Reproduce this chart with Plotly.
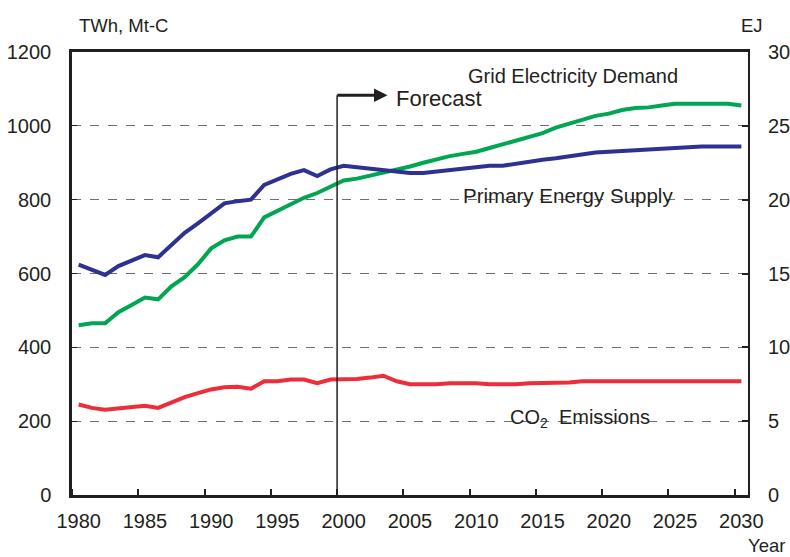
import plotly.graph_objects as go

years = list(range(1980, 2031))

# Primary energy supply, EJ (right axis)
primary_energy = [15.6, 15.25, 14.9, 15.5, 15.9, 16.25, 16.1, 16.9, 17.75, 18.4,
                  19.1, 19.75, 19.9, 20.0, 21.0, 21.4, 21.75, 22.0, 21.6, 22.05,
                  22.3, 22.2, 22.1, 21.95, 21.85, 21.8, 21.8, 21.9, 22.0, 22.15,
                  22.2, 22.3, 22.3, 22.45, 22.6, 22.7, 22.8, 22.95, 23.05, 23.2,
                  23.25, 23.3, 23.4, 23.45, 23.5, 23.5, 23.6, 23.6, 23.6, 23.6,
                  23.6]

# Grid electricity demand, TWh (left axis)
grid_demand = [460, 465, 465, 495, 515, 535, 530, 565, 590, 625,
               668, 690, 700, 700, 752, 770, 790, 805, 818, 835,
               852, 857, 865, 872, 880, 890, 900, 910, 918, 924,
               930, 940, 950, 960, 970, 980, 995, 1005, 1017, 1027,
               1033, 1043, 1048, 1050, 1055, 1060, 1060, 1060, 1060, 1060,
               1055]

# CO2 emissions, Mt-C (left axis)
co2 = [245, 236, 231, 235, 240, 242, 236, 250, 265, 276,
       286, 292, 293, 288, 308, 308, 313, 313, 303, 313,
       313, 314, 318, 323, 308, 300, 300, 300, 303, 303,
       303, 300, 300, 300, 303, 303, 303, 305, 308, 308,
       308, 308, 308, 308, 308, 308, 308, 308, 308, 308,
       308]

label_years = list(range(1980, 2031, 5))
forecast_start = 2000

fig = go.Figure()
fig.add_trace(go.Scatter(x=years, y=grid_demand, mode="lines",
                         line=dict(color="#00A651", width=4), name="Grid Electricity Demand"))
fig.add_trace(go.Scatter(x=years, y=primary_energy, mode="lines", yaxis="y2",
                         line=dict(color="#2E3192", width=4), name="Primary Energy Supply"))
fig.add_trace(go.Scatter(x=years, y=co2, mode="lines",
                         line=dict(color="#ED2D3A", width=4), name="CO2 Emissions"))

txt = "#231F20"
fam = "Liberation Sans, Arial, sans-serif"
font = dict(family=fam, size=20, color=txt)
small = dict(family=fam, size=18.5, color=txt)

# forecast marker
fig.add_shape(type="line", x0=forecast_start - 0.5, x1=forecast_start - 0.5, y0=0, y1=1083,
              line=dict(color="#231F20", width=1.5))
fig.add_annotation(x=forecast_start + 3.3, y=1083, ax=forecast_start - 0.6, ay=1083,
                   xref="x", yref="y", axref="x", ayref="y", text="",
                   showarrow=True, arrowhead=2, arrowsize=0.9, arrowwidth=3, arrowcolor="#231F20")

fig.add_annotation(x=forecast_start + 3.8, y=1075, text="Forecast", showarrow=False,
                   xanchor="left", font=dict(family=fam, size=22, color=txt))
fig.add_annotation(x=2017.3, y=1135, text="Grid Electricity Demand", showarrow=False, font=font)
fig.add_annotation(x=2016.9, y=812, text="Primary Energy Supply", showarrow=False,
                   font=dict(family=fam, size=20.5, color=txt))
fig.add_annotation(x=2017.8, y=208, text="CO<sub>2</sub>  Emissions", showarrow=False, font=font)

fig.add_annotation(x=0.008, y=1.059, xref="paper", yref="paper", text="TWh, Mt-C",
                   showarrow=False, xanchor="left", yanchor="middle", font=small)
fig.add_annotation(x=1.006, y=1.059, xref="paper", yref="paper", text="EJ",
                   showarrow=False, xanchor="center", yanchor="middle", font=small)
fig.add_annotation(x=1.028, y=-0.113, xref="paper", yref="paper", text="Year",
                   showarrow=False, xanchor="center", yanchor="middle", font=small)

fig.update_layout(
    width=790, height=557,
    margin=dict(l=72, r=42, t=52, b=62),
    plot_bgcolor="white", paper_bgcolor="white",
    showlegend=False,
    font=font,
    xaxis=dict(range=[1979.5, 2030.5], tickvals=label_years, ticktext=[str(y) for y in label_years],
               ticks="", showgrid=False, showline=True, linecolor="#231F20", linewidth=2.5,
               mirror=True, ticklabelstandoff=6, zeroline=False, automargin=False,
               minor=dict(tickvals=[y - 0.5 for y in label_years], ticks="inside",
                          ticklen=6, tickwidth=1.5, tickcolor="#231F20", showgrid=False)),
    yaxis=dict(range=[0, 1200], tickvals=list(range(0, 1201, 200)), ticks="inside", ticklen=5,
               tickcolor="#231F20", showline=True, linecolor="#231F20", linewidth=2.5,
               showgrid=True, gridcolor="#6F6F6F", griddash="dash", gridwidth=1.3,
               zeroline=False, ticklabelstandoff=14, automargin=False),
    yaxis2=dict(range=[0, 30], tickvals=list(range(0, 31, 5)), overlaying="y", side="right",
                ticks="inside", ticklen=6, tickwidth=1.5, tickcolor="#231F20", showline=True,
                linecolor="#231F20", linewidth=2, showgrid=False, zeroline=False,
                ticklabelstandoff=14, automargin=False),
)

fig.write_html("out.html", config={"displayModeBar": False},
               post_script="document.body.style.margin='0';")
